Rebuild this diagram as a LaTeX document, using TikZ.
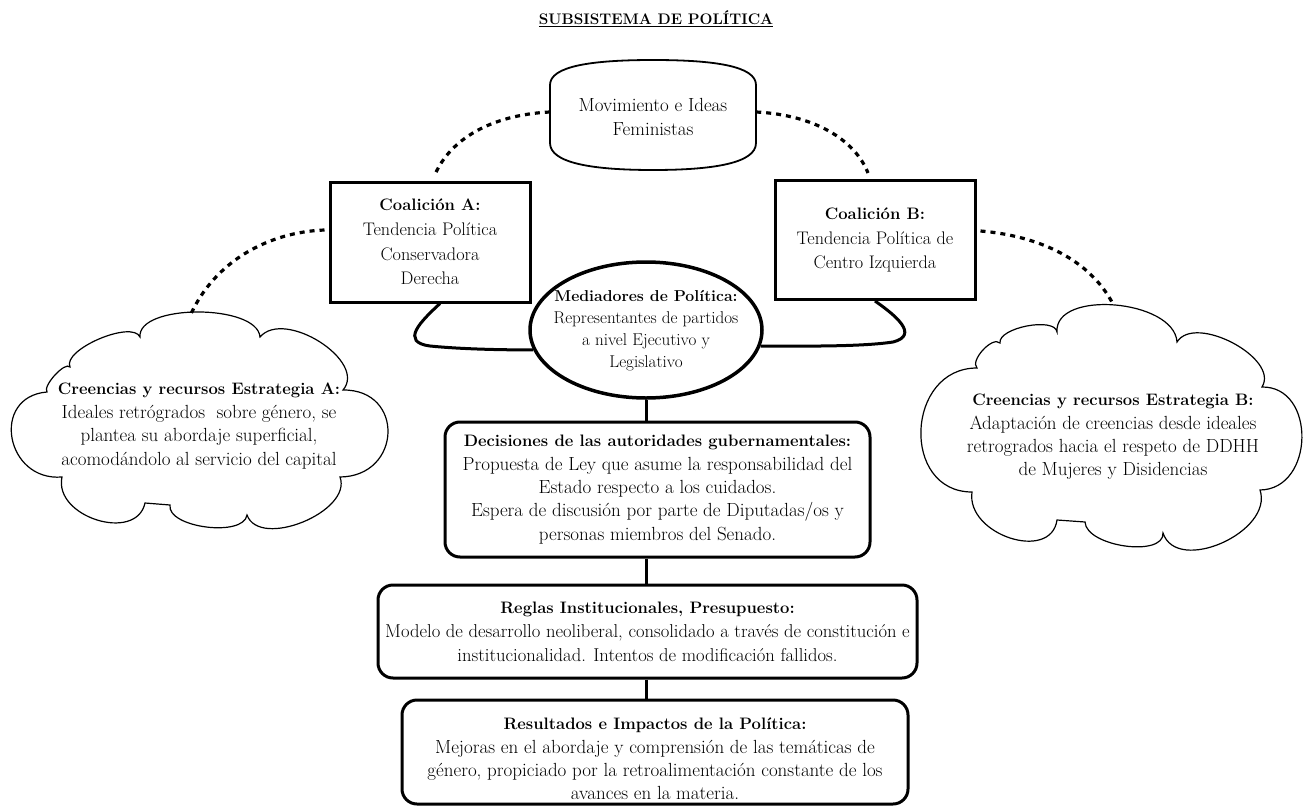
\documentclass[tikz,border=0pt]{standalone}
\usetikzlibrary{shapes.geometric,calc}
\newcommand\lobe[3]{.. controls ($0.3333*(#1)+1.3333*(#2)-0.6667*(#3)$) and ($0.3333*(#3)+1.3333*(#2)-0.6667*(#1)$) .. (#3)}
\newcommand\hd[1]{{\fontsize{16.6}{23.4}\selectfont\bfseries #1}}
\newcommand\hdm[1]{{\fontsize{15.8}{22}\selectfont\bfseries #1}}
\newcommand\hdc[1]{{\fontsize{16.6}{24.6}\selectfont\bfseries #1}}
\tikzset{
  txt/.style={font=\fontsize{19}{23.4}\selectfont, align=center, inner sep=0pt},
  regtxt/.style={font=\fontsize{18.6}{24}\selectfont, align=center, inner sep=0pt},
  smalltxt/.style={font=\fontsize{17.1}{22}\selectfont, align=center, inner sep=0pt},
  coaltxt/.style={font=\fontsize{18.2}{24.6}\selectfont, align=center, inner sep=0pt},
  sqbox/.style={draw, line width=3pt, coaltxt},
  rbox/.style={draw, line width=3pt, rounded corners=15pt, inner sep=0pt},
  link/.style={line width=3pt},
  dashlink/.style={line width=3.2pt, dash pattern=on 5pt off 5pt},
  cloudline/.style={line width=1.2pt, fill=white},
  femline/.style={line width=1.8pt},
}
\begin{document}
\begin{tikzpicture}[x=1pt, y=-1pt]
\useasboundingbox (0,0) rectangle (1304,811);

% title
\node[font=\bfseries\fontsize{15.3}{17}\selectfont] (title) at (656,19) {\underline{SUBSISTEMA DE POLÍTICA}};

% clouds
\draw[cloudline] (47,392) \lobe{47,392}{55,375}{70,367} \lobe{70,367}{99,339}{140,337}
  \lobe{140,337}{198,312}{260,337} \lobe{260,337}{320,342}{343,390}
  \lobe{343,390}{388,433}{340,477} \lobe{340,477}{303,522}{247,515}
  \lobe{247,515}{206,527}{170,505} -- (145,503) \lobe{145,503}{97,520}{62,477}
  \lobe{62,477}{12,438}{47,392} -- cycle;
\draw[cloudline] (977,368) \lobe{977,368}{983,350}{1000,343} \lobe{1000,343}{1027,326}{1057,332}
  \lobe{1057,332}{1115,305}{1177,342} \lobe{1177,342}{1233,343}{1262,387}
  \lobe{1262,387}{1302,438}{1260,490} \lobe{1260,490}{1222,543}{1163,533}
  \lobe{1163,533}{1125,546}{1085,522} -- (1057,520) \lobe{1057,520}{1010,538}{972,492}
  \lobe{972,492}{921,430}{977,368} -- cycle;
\coordinate (cAtop) at (190,316);
\coordinate (cBtop) at (1113,304);

\node[txt] (cloudA) at (199,426) {\hd{Creencias y recursos Estrategia A:}\\Ideales retrógrados~ sobre género, se\\plantea su abordaje superficial,\\acomodándolo al servicio del capital};
\node[txt] (cloudB) at (1113,437) {\hd{Creencias y recursos Estrategia B:}\\Adaptación de creencias desde ideales\\retrogrados hacia el respeto de DDHH\\de Mujeres y Disidencias};

% feminist movement shape
\draw[femline] (550,85) .. controls (550,66) and (592,60) .. (653,60) .. controls (714,60) and (756,66) .. (756,85)
  -- (756,143) .. controls (756,163) and (714,170) .. (653,170) .. controls (592,170) and (550,163) .. (550,143) -- cycle;
\node[txt, minimum width=206pt, minimum height=110pt] (fem) at (653,117) {Movimiento e Ideas\\Feministas};

% coalitions
\node[sqbox, minimum width=200pt, minimum height=120pt] (coalA) at (430,242) {\hdc{Coalición A:}\\Tendencia Política\\Conservadora\\Derecha};
\node[sqbox, minimum width=200pt, minimum height=119pt] (coalB) at (875,240) {\hdc{Coalición B:}\\Tendencia Política de\\Centro Izquierda};

% mediators
\node[draw, ellipse, line width=3.5pt, minimum width=232pt, minimum height=136pt, inner sep=0pt] (med) at (646,330) {};
\node[smalltxt] (medtxt) at (646,331) {\hdm{Mediadores de Política:}\\Representantes de partidos\\a nivel Ejecutivo y\\Legislativo};

% decision boxes
\node[rbox, txt, minimum width=425pt, minimum height=135pt] (dec) at (657.5,489.5) {\hd{Decisiones de las autoridades gubernamentales:}\\Propuesta de Ley que asume la responsabilidad del\\Estado respecto a los cuidados.\\Espera de discusión por parte de Diputadas/os y\\personas miembros del Senado.};
\node[rbox, regtxt, minimum width=539pt, minimum height=93pt] (reg) at (647.5,631.5) {\hd{Reglas Institucionales, Presupuesto:}\\Modelo de desarrollo neoliberal, consolidado a través de constitución e\\institucionalidad. Intentos de modificación fallidos.};
\node[rbox, minimum width=506pt, minimum height=104pt] (res) at (655,752) {};
\node[txt] (restxt) at (655,759) {\hd{Resultados e Impactos de la Política:}\\Mejoras en el abordaje y comprensión de las temáticas de\\género, propiciado por la retroalimentación constante de los\\avances en la materia.};

% connectors
\draw[dashlink] ([yshift=5pt]fem.west) .. controls (490,115) and (450,140) .. ([xshift=5pt,yshift=6pt]coalA.north);
\draw[dashlink] ([yshift=5pt]fem.east) .. controls (815,115) and (855,140) .. ([xshift=-7pt,yshift=6pt]coalB.north);
\draw[dashlink] ([xshift=-4pt,yshift=12pt]coalA.west) .. controls (270,232) and (215,260) .. (cAtop);
\draw[dashlink] ([xshift=4pt,yshift=9pt]coalB.east) .. controls (1040,236) and (1090,260) .. (cBtop);

\draw[link] ([xshift=10pt]coalA.south) .. controls (420,322) and (400,342) .. (430,346) .. controls (460,349) and (500,350) .. (med.190);
\draw[link] (coalB.south) .. controls (895,315) and (920,335) .. (893,342) .. controls (860,347) and (800,346) .. (med.-8);

\draw[link] (med.south) -- (med.south |- dec.north);
\draw[link] (dec.south -| med.south) -- (med.south |- reg.north);
\draw[link] (reg.south -| med.south) -- (med.south |- res.north);
\end{tikzpicture}
\end{document}
